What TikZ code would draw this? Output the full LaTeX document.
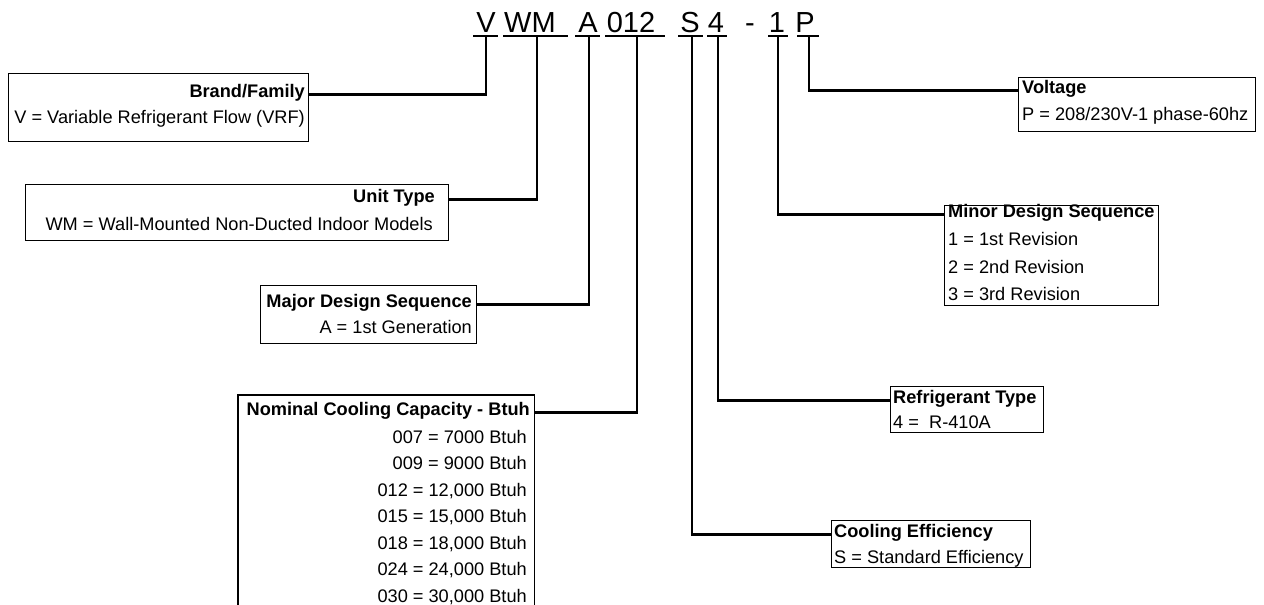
\documentclass[tikz,border=0pt]{standalone}
\usepackage{fontspec}
\setmainfont{Liberation Sans}
\begin{document}
\begin{tikzpicture}[x=1pt,y=-1pt,
  box/.style={draw, line width=1.2pt, inner sep=0pt, anchor=north west},
  conn/.style={line width=2.6pt},
  uline/.style={line width=2pt},
  code/.style={font=\fontsize{29}{30}\selectfont, inner sep=0pt, anchor=base},
  ttl/.style={font=\fontsize{18.2}{20}\selectfont\bfseries, inner sep=0pt},
  txt/.style={font=\fontsize{18.2}{20}\selectfont, inner sep=0pt}]
\useasboundingbox (0,0) rectangle (1264,605);

% model code
\node[code] (cV)  at (486,32) {V};
\node[code] (cWM) at (530,32) {WM};
\node[code] (cA)  at (588,32) {A};
\node[code] (c012) at (631,32) {012};
\node[code] (cS)  at (690,32) {S};
\node[code] (c4)  at (716,32) {4};
\node[code] (cD)  at (750,32) {-};
\node[code] (c1)  at (777,32) {1};
\node[code] (cP)  at (805,32) {P};

\draw[uline] (473,36) -- (498,36);
\draw[uline] (503,36) -- (568,36);
\draw[uline] (575,36) -- (600,36);
\draw[uline] (605,36) -- (665,36);
\draw[uline] (678,36) -- (703,36);
\draw[uline] (707,36) -- (727,36);
\draw[uline] (768,36) -- (788,36);
\draw[uline] (797,36) -- (819,36);

\coordinate (uV) at (486,36);
\coordinate (uWM) at (537,36);
\coordinate (uA) at (589,36);
\coordinate (u012) at (637,36);
\coordinate (uS) at (692,36);
\coordinate (u4) at (718,36);
\coordinate (u1) at (778,36);
\coordinate (uP) at (809,36);

% boxes
\node[box, minimum width=300, minimum height=68] (brand) at (8,73) {};
\node[box, minimum width=423, minimum height=56] (unit) at (25,184) {};
\node[box, minimum width=216, minimum height=58] (major) at (260,285) {};
\node[box, draw=none, minimum width=295, minimum height=210] (nom) at (238,395) {};
\draw[line width=1.2pt] (nom.south west) -- (nom.north west) -- (nom.north east) -- (nom.south east);
\node[box, minimum width=237, minimum height=54] (volt) at (1018,77) {};
\node[box, minimum width=214, minimum height=100] (minor) at (944,205) {};
\node[box, minimum width=153, minimum height=46] (refr) at (890,386) {};
\node[box, minimum width=199, minimum height=47] (cool) at (831,520) {};

% texts, left side (right aligned)
\node[ttl, anchor=base east] (brandT) at (305,97) {Brand/Family};
\node[txt, anchor=base east] (brandL) at (305,123) {V = Variable Refrigerant Flow (VRF)};
\node[ttl, anchor=base east] (unitT) at (435,202) {Unit Type};
\node[txt, anchor=base east] (unitL) at (433,230) {WM = Wall-Mounted Non-Ducted Indoor Models};
\node[ttl, anchor=base east] (majorT) at (472,307) {Major Design Sequence};
\node[txt, anchor=base east] (majorL) at (472,333) {A = 1st Generation};
\node[ttl, anchor=base east] (nomT) at (530,415) {Nominal Cooling Capacity - Btuh};
\node[txt, anchor=base east] (n1) at (527,443) {007 = 7000 Btuh};
\node[txt, anchor=base east] (n2) at (527,469.5) {009 = 9000 Btuh};
\node[txt, anchor=base east] (n3) at (527,496) {012 = 12,000 Btuh};
\node[txt, anchor=base east] (n4) at (527,522.5) {015 = 15,000 Btuh};
\node[txt, anchor=base east] (n5) at (527,549) {018 = 18,000 Btuh};
\node[txt, anchor=base east] (n6) at (527,575.5) {024 = 24,000 Btuh};
\node[txt, anchor=base east] (n7) at (527,602) {030 = 30,000 Btuh};

% texts, right side (left aligned)
\node[ttl, anchor=base west] (voltT) at (1022,93) {Voltage};
\node[txt, anchor=base west] (voltL) at (1022,120) {P = 208/230V-1 phase-60hz};
\node[ttl, anchor=base west] (minorT) at (948,217) {Minor Design Sequence};
\node[txt, anchor=base west] (m1) at (948,245) {1 = 1st Revision};
\node[txt, anchor=base west] (m2) at (948,273) {2 = 2nd Revision};
\node[txt, anchor=base west] (m3) at (948,300) {3 = 3rd Revision};
\node[ttl, anchor=base west] (refrT) at (893,403) {Refrigerant Type};
\node[txt, anchor=base west] (refrL) at (893,428) {4 = \ R-410A};
\node[ttl, anchor=base west] (coolT) at (834,537) {Cooling Efficiency};
\node[txt, anchor=base west] (coolL) at (834,563) {S = Standard Efficiency};

% connectors
\draw[conn] (uV) |- (brand.east |- brandT.mid);
\draw[conn] (uWM) |- (unit.east |- unitT.mid);
\draw[conn] (uA) |- (major.east |- majorT.mid);
\draw[conn] (u012) |- (nom.east |- nomT.mid);
\draw[conn] (uS) |- (cool.west |- coolT.mid);
\draw[conn] (u4) |- (refr.west |- refrT.mid);
\draw[conn] (u1) |- (minor.west |- minorT.mid);
\draw[conn] (uP) |- (volt.west |- voltT.mid);
\end{tikzpicture}
\end{document}
